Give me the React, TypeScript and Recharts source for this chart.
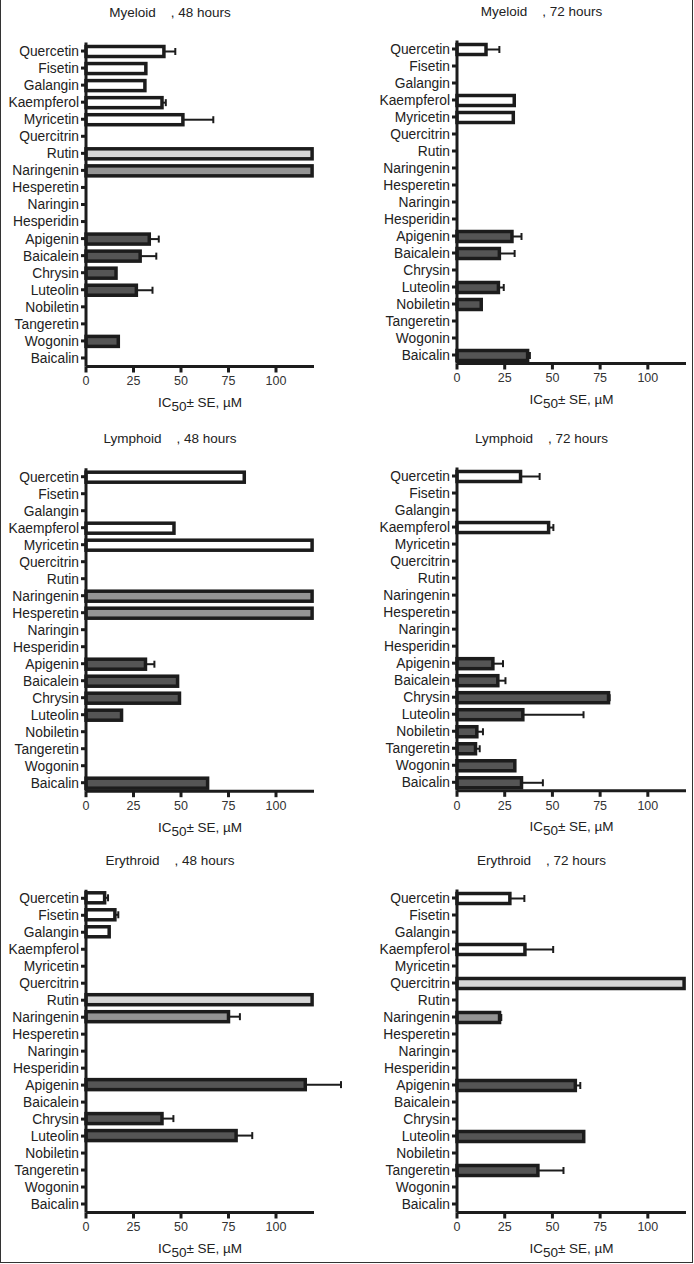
import React from 'react';
import { BarChart, Bar, XAxis, YAxis } from 'recharts';

const compounds = [
  'Quercetin', 'Fisetin', 'Galangin', 'Kaempferol', 'Myricetin', 'Quercitrin', 'Rutin',
  'Naringenin', 'Hesperetin', 'Naringin', 'Hesperidin', 'Apigenin', 'Baicalein', 'Chrysin',
  'Luteolin', 'Nobiletin', 'Tangeretin', 'Wogonin', 'Baicalin',
];
const compoundClass = [
  'flavonol', 'flavonol', 'flavonol', 'flavonol', 'flavonol', 'glycoside', 'glycoside',
  'flavanone', 'flavanone', 'flavanone', 'flavanone', 'flavone', 'flavone', 'flavone',
  'flavone', 'flavone', 'flavone', 'flavone', 'flavone',
];
const xTicks = [0, 25, 50, 75, 100];
const xMax = 120;

// values (IC50, µM) in the order of `compounds`; null = not shown
const myeloid48 = [41, 31.5, 31, 40, 51, null, 119, 119, null, null, null, 33.3, 28.5, 15.8, 26.5, null, null, 17, null];
const myeloid48Err = [6, null, null, 2, 16, null, null, null, null, null, null, 5, 8.5, null, 8.5, null, null, null, null];
const myeloid72 = [15.2, null, null, 30, 29.5, null, null, null, null, null, null, 28.8, 22.2, null, 21.7, 12.7, null, null, 37];
const myeloid72Err = [7, null, null, null, null, null, null, null, null, null, null, 5, 8, null, 2.8, null, null, null, 1.2];
const lymphoid48 = [83.3, null, null, 46.3, 119, null, null, 119, 119, null, null, 31.3, 48.2, 49.2, 18.7, null, null, null, 64];
const lymphoid48Err = [null, null, null, null, null, null, null, null, null, null, null, 4.7, null, null, null, null, null, null, null];
const lymphoid72 = [33.3, null, null, 48, null, null, null, null, null, null, null, 18.8, 21.4, 79.4, 34.5, 10.4, 9.7, 30.3, 33.8];
const lymphoid72Err = [10, null, null, 2.5, null, null, null, null, null, null, null, 5.3, 4, 0.6, 31.8, 3.2, 2.2, null, 11.2];
const erythroid48 = [9.8, 15.2, 12.2, null, null, null, 119, 75, null, null, null, 115.4, null, 40, 79, null, null, null, null];
const erythroid48Err = [1.8, 1.8, null, null, null, null, null, 6, null, null, null, 18.8, null, 6, 8.5, null, null, null, null];
const erythroid72 = [27.7, null, null, 35.6, null, 119, null, 22.3, null, null, null, 62, null, null, 66.4, null, 42.4, null, null];
const erythroid72Err = [7.6, null, null, 14.8, null, null, null, 0.9, null, null, null, 2.6, null, null, null, null, 13.4, null, null];

const FILLS: Record<string, string> = {
  flavonol: '#ffffff',
  glycoside: '#d6d6d6',
  flavanone: '#949494',
  flavone: '#555555',
};
const INK = '#1c1c1c';
const FONT = '"Liberation Sans", Arial, Helvetica, sans-serif';

const makeData = (values: (number | null)[], errors: (number | null)[]) =>
  compounds.map((name, i) => ({ name, group: compoundClass[i], value: values[i], err: errors[i] }));

const BarShape = (props: any) => {
  const { x, y, width, height, payload } = props;
  if (payload == null || payload.value == null || !width || width <= 0) return null;
  const fill = FILLS[payload.group];
  const cy = y + height / 2;
  let whisker = null;
  if (payload.err) {
    const pxPerUnit = width / payload.value;
    const x1 = x + width;
    const x2 = x + (payload.value + payload.err) * pxPerUnit;
    whisker = (
      <g>
        <line x1={x1} x2={x2} y1={cy} y2={cy} stroke={INK} strokeWidth={2} />
        <line x1={x2} x2={x2} y1={cy - 3.5} y2={cy + 3.5} stroke={INK} strokeWidth={2} />
      </g>
    );
  }
  return (
    <g>
      <rect x={x} y={y} width={width} height={height} fill={fill} stroke={INK} strokeWidth={3.5} />
      {whisker}
    </g>
  );
};

const AxisTitle = (props: any) => {
  const vb = props.viewBox || {};
  const cx = vb.x + vb.width / 2;
  const y = vb.y + 40.5;
  return (
    <text x={cx} y={y} textAnchor="middle" fontFamily={FONT} fontSize={13.5} fill="#222">
      <tspan>IC</tspan>
      <tspan dy={4}>50</tspan>
      <tspan dy={-4}>± SE, µM</tspan>
    </text>
  );
};

type PanelCfg = {
  title: string;
  hours: string;
  values: (number | null)[];
  errors: (number | null)[];
  colLeft: number;
  rowTop: number;
  rowH: number;
  plotLeft: number;
  plotRight: number;
  plotTop: number;
  plotBottom: number;
  titleY: number;
};

const panels: PanelCfg[] = [
  { title: 'Myeloid', hours: '48 hours', values: myeloid48, errors: myeloid48Err, colLeft: 0, rowTop: 0, rowH: 420, plotLeft: 86, plotRight: 314, plotTop: 42.5, plotBottom: 366.5, titleY: 13 },
  { title: 'Myeloid', hours: '72 hours', values: myeloid72, errors: myeloid72Err, colLeft: 347, rowTop: 0, rowH: 420, plotLeft: 457, plotRight: 686, plotTop: 40.5, plotBottom: 363.5, titleY: 12 },
  { title: 'Lymphoid', hours: '48 hours', values: lymphoid48, errors: lymphoid48Err, colLeft: 0, rowTop: 420, rowH: 420, plotLeft: 86, plotRight: 314, plotTop: 468.2, plotBottom: 791.2, titleY: 439 },
  { title: 'Lymphoid', hours: '72 hours', values: lymphoid72, errors: lymphoid72Err, colLeft: 347, rowTop: 420, rowH: 420, plotLeft: 457, plotRight: 686, plotTop: 467.5, plotBottom: 790.8, titleY: 439 },
  { title: 'Erythroid', hours: '48 hours', values: erythroid48, errors: erythroid48Err, colLeft: 0, rowTop: 840, rowH: 424, plotLeft: 86, plotRight: 314, plotTop: 889.8, plotBottom: 1212.5, titleY: 861 },
  { title: 'Erythroid', hours: '72 hours', values: erythroid72, errors: erythroid72Err, colLeft: 347, rowTop: 840, rowH: 424, plotLeft: 457, plotRight: 686, plotTop: 889.5, plotBottom: 1212.5, titleY: 861 },
];

const Panel = ({ cfg }: { cfg: PanelCfg }) => {
  const W = 347;
  const data = makeData(cfg.values, cfg.errors);
  const axisH = 30;
  const margin = {
    top: cfg.plotTop - cfg.rowTop,
    right: cfg.colLeft + W - cfg.plotRight,
    bottom: cfg.rowH - (cfg.plotBottom - cfg.rowTop) - axisH,
    left: 0,
  };
  const titleCx = (cfg.plotLeft + cfg.plotRight) / 2 - 30 - cfg.colLeft;
  return (
    <div style={{ position: 'absolute', left: cfg.colLeft, top: cfg.rowTop, width: W, height: cfg.rowH }}>
      <div
        style={{
          position: 'absolute', left: titleCx - 100, width: 200, top: cfg.titleY - cfg.rowTop - 8,
          height: 16, lineHeight: '16px', textAlign: 'center', whiteSpace: 'pre',
          fontFamily: FONT, fontSize: 13.5, color: '#222',
        }}
      >
        {cfg.title + '    , ' + cfg.hours}
      </div>
      <BarChart width={W} height={cfg.rowH} data={data} layout="vertical" margin={margin} barSize={10}>
        <XAxis
          type="number"
          domain={[0, xMax]}
          ticks={xTicks}
          height={axisH}
          axisLine={{ stroke: INK, strokeWidth: 3 }}
          tickLine={{ stroke: INK, strokeWidth: 3 }}
          tickSize={6}
          tickMargin={4}
          tick={{ fontFamily: FONT, fontSize: 12.5, fill: '#333' }}
          label={<AxisTitle />}
        />
        <YAxis
          type="category"
          dataKey="name"
          interval={0}
          width={cfg.plotLeft - cfg.colLeft}
          axisLine={{ stroke: INK, strokeWidth: 3 }}
          tickLine={{ stroke: INK, strokeWidth: 3 }}
          tickSize={5}
          tickMargin={2}
          tick={{ fontFamily: FONT, fontSize: 13.8, fill: '#222' }}
        />
        <Bar dataKey="value" isAnimationActive={false} shape={<BarShape />} />
      </BarChart>
    </div>
  );
};

export default function App() {
  return (
    <div style={{ position: 'absolute', left: 0, top: 0, width: 694, height: 1264, background: '#fff' }}>
      <div
        style={{
          position: 'absolute', left: 0, top: 0, width: 693, height: 1263, boxSizing: 'border-box',
          borderLeft: '1px solid #333', borderRight: '1px solid #333', borderBottom: '1px solid #333',
        }}
      />
      {panels.map((p, i) => (
        <Panel key={i} cfg={p} />
      ))}
    </div>
  );
}
